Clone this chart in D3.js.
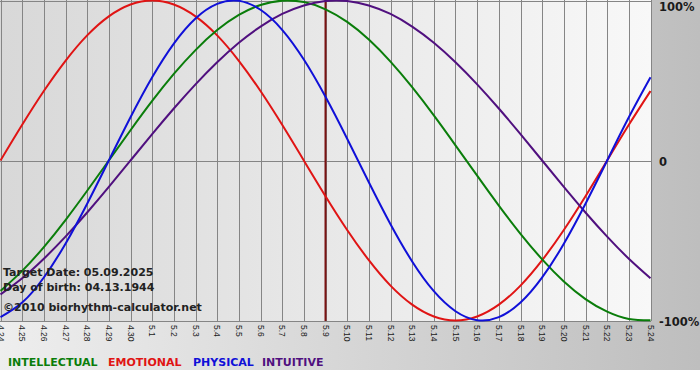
<!DOCTYPE html>
<html>
<head>
<meta charset="utf-8">
<script src="https://cdn.jsdelivr.net/npm/d3@7"></script>
<style>
html,body{margin:0;padding:0;background:#fff;}
svg{display:block;}
</style>
</head>
<body>
<svg id="chart" width="700" height="380"></svg>
<script>
const dayLabels = ["4.24","4.25","4.26","4.27","4.28","4.29","4.30","5.1","5.2","5.3","5.4","5.5","5.6","5.7","5.8","5.9","5.10","5.11","5.12","5.13","5.14","5.15","5.16","5.17","5.18","5.19","5.20","5.21","5.22","5.23","5.24"];
const physical = [-0.979,-0.888,-0.731,-0.520,-0.270,0,0.270,0.520,0.731,0.888,0.979,0.998,0.942,0.817,0.631,0.398,0.136,-0.136,-0.398,-0.631,-0.817,-0.942,-0.998,-0.979,-0.888,-0.731,-0.520,-0.270,0,0.270,0.520];
const emotional = [0,0.223,0.434,0.623,0.782,0.901,0.975,1,0.975,0.901,0.782,0.623,0.434,0.223,0,-0.223,-0.434,-0.623,-0.782,-0.901,-0.975,-1,-0.975,-0.901,-0.782,-0.623,-0.434,-0.223,0,0.223,0.434];
const intellectual = [-0.815,-0.690,-0.541,-0.372,-0.189,0,0.189,0.372,0.541,0.690,0.815,0.910,0.972,0.999,0.990,0.945,0.866,0.756,0.618,0.458,0.282,0.095,-0.095,-0.282,-0.458,-0.618,-0.756,-0.866,-0.945,-0.990,-0.999];
const intuitive = [-0.837,-0.736,-0.614,-0.476,-0.325,-0.165,0,0.165,0.325,0.476,0.614,0.736,0.837,0.916,0.969,0.997,0.997,0.969,0.916,0.837,0.736,0.614,0.476,0.325,0.165,0,-0.165,-0.325,-0.476,-0.614,-0.736];
const seriesNames = ["INTELLECTUAL","EMOTIONAL","PHYSICAL","INTUITIVE"];
const seriesColors = ["#0a7d0a","#e01414","#1010d8","#50107f"];
const yTicks = [1,0,-1];
const yTickLabels = ["100%","0","-100%"];
const targetIndex = 15;
const infoLines = ["Target Date: 05.09.2025","Day of birth: 04.13.1944","\u00a92010 biorhythm-calculator.net"];

const svg = d3.select("#chart");
const W = 700, H = 380;
const plotL = 0, plotR = 651, plotT = 0, plotB = 321;

const defs = svg.append("defs");
const gBg = defs.append("linearGradient").attr("id","bgGrad").attr("x1","0").attr("x2","1").attr("y1","0").attr("y2","0");
gBg.append("stop").attr("offset","0").attr("stop-color","#eeeeee");
gBg.append("stop").attr("offset","1").attr("stop-color","#bebebe");
const gPlot = defs.append("linearGradient").attr("id","plotGrad").attr("x1","0").attr("x2","1").attr("y1","0").attr("y2","0");
gPlot.append("stop").attr("offset","0").attr("stop-color","#d8d8d8");
gPlot.append("stop").attr("offset","1").attr("stop-color","#f8f8f8");
defs.append("clipPath").attr("id","plotClip").append("rect")
  .attr("x",plotL).attr("y",plotT).attr("width",plotR-plotL+1).attr("height",plotB-plotT+1);

svg.append("rect").attr("x",0).attr("y",0).attr("width",W).attr("height",370).attr("fill","url(#bgGrad)");
svg.append("rect").attr("x",plotL).attr("y",plotT).attr("width",plotR-plotL).attr("height",plotB-plotT).attr("fill","url(#plotGrad)");

const x = d3.scaleLinear().domain([0, dayLabels.length-1]).range([plotL+0.5, plotR-0.5]);
const y = d3.scaleLinear().domain([-1,1]).range([plotB-0.5, plotT+0.5]);

// vertical grid
svg.append("g").selectAll("line").data(dayLabels).join("line")
  .attr("x1",(d,i)=>Math.round(x(i))+0.5).attr("x2",(d,i)=>Math.round(x(i))+0.5)
  .attr("y1",plotT).attr("y2",plotB)
  .attr("stroke","#858585").attr("stroke-width",1);
// border top/bottom + zero line
svg.append("g").selectAll("line").data(yTicks).join("line")
  .attr("x1",plotL).attr("x2",plotR)
  .attr("y1",d=>Math.round(y(d))+0.5).attr("y2",d=>Math.round(y(d))+0.5)
  .attr("stroke","#858585").attr("stroke-width",1);

// target line
svg.append("line")
  .attr("x1",x(targetIndex)).attr("x2",x(targetIndex))
  .attr("y1",plotT).attr("y2",plotB)
  .attr("stroke","#7a1212").attr("stroke-width",2);

// curves
const allSeries = [intellectual, emotional, physical, intuitive];
const line = d3.line().x((d,i)=>x(i)).y(d=>y(d)).curve(d3.curveNatural);
const gCurves = svg.append("g").attr("clip-path","url(#plotClip)");
[1,0,3,2].forEach(k=>{
  gCurves.append("path").datum(allSeries[k])
    .attr("d",line).attr("fill","none")
    .attr("stroke",seriesColors[k]).attr("stroke-width",2);
});

// x tick labels (rotated)
svg.append("g").selectAll("text").data(dayLabels).join("text")
  .attr("transform",(d,i)=>`translate(${x(i)},${plotB+4}) rotate(90)`)
  .attr("dominant-baseline","central")
  .attr("font-family","'Liberation Sans', Arial, sans-serif")
  .attr("font-size","8.5px")
  .attr("fill","#1a1a1a")
  .text(d=>d);

// y labels
svg.append("g").selectAll("text").data(yTicks).join("text")
  .attr("x",659)
  .attr("y",d=>Math.max(y(d)+5.5, 11))
  .attr("font-family","'DejaVu Sans', Verdana, sans-serif")
  .attr("font-weight","bold")
  .attr("font-size","11.5px")
  .attr("fill","#1a1a1a")
  .text((d,i)=>yTickLabels[i]);

// info text
const infoY = [276, 291, 311];
svg.append("g").selectAll("text").data(infoLines).join("text")
  .attr("x",3).attr("y",(d,i)=>infoY[i])
  .attr("font-family","'DejaVu Sans', Verdana, sans-serif")
  .attr("font-weight","bold")
  .attr("font-size","11px")
  .attr("fill","#222")
  .text(d=>d);

// legend
const legX = [8,108,193,262];
svg.append("g").selectAll("text").data(seriesNames).join("text")
  .attr("x",(d,i)=>legX[i]).attr("y",366)
  .attr("font-family","'DejaVu Sans', Verdana, sans-serif")
  .attr("font-weight","bold")
  .attr("font-size","11px")
  .attr("fill",(d,i)=>seriesColors[i])
  .text(d=>d);
</script>
</body>
</html>
